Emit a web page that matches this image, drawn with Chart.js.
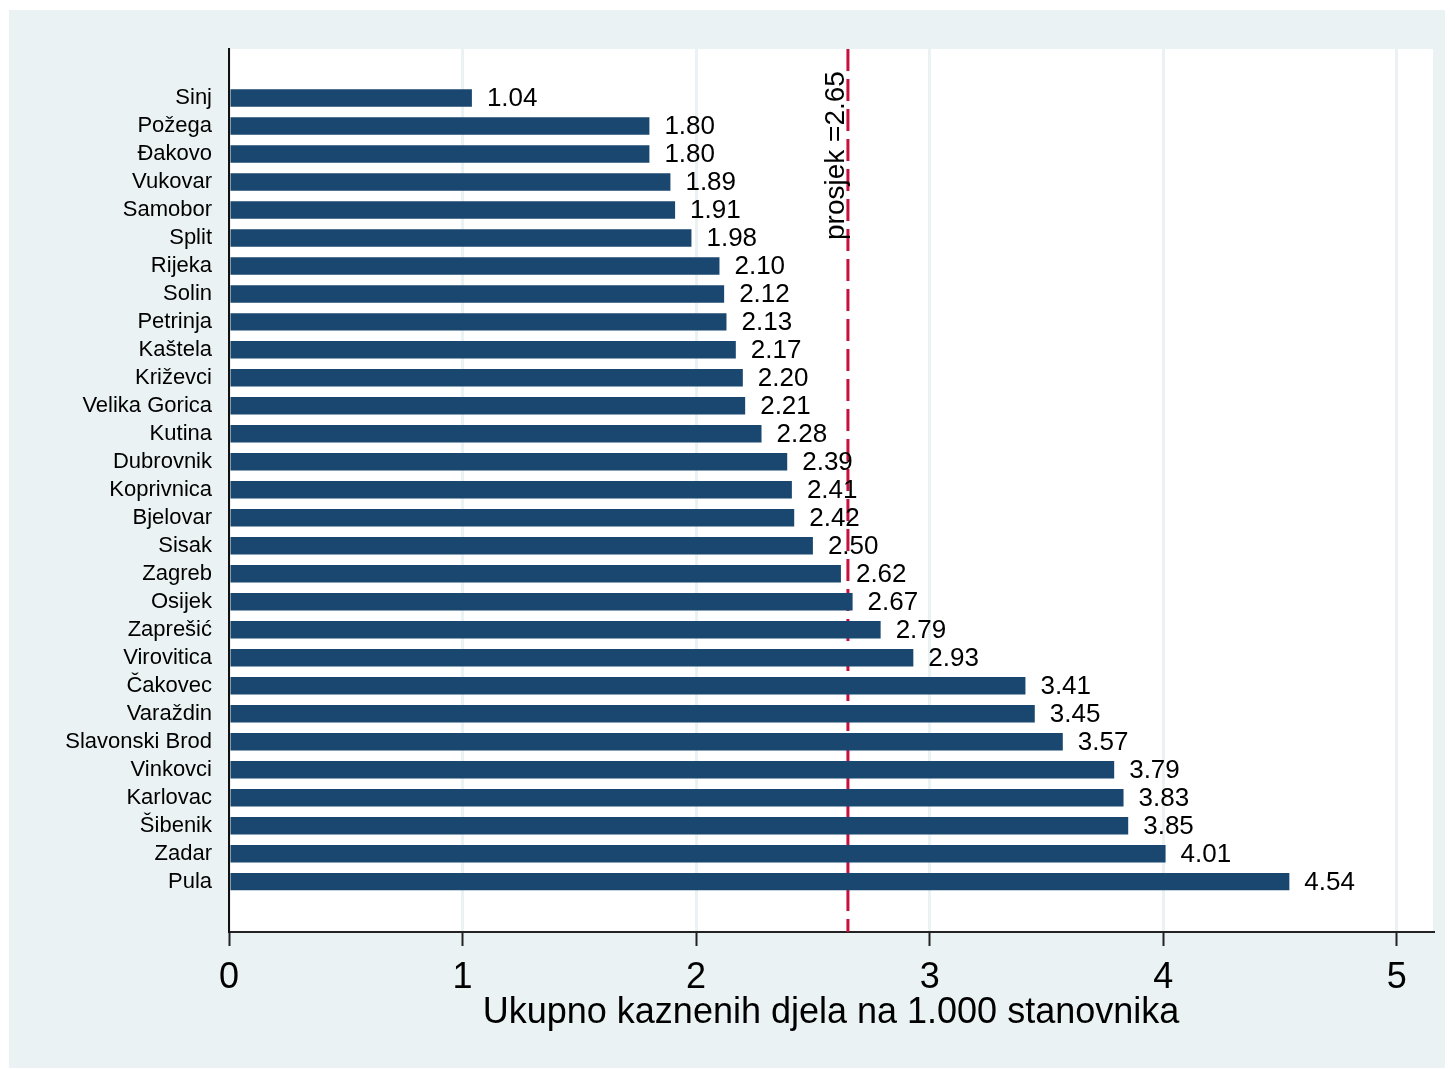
<!DOCTYPE html>
<html>
<head>
<meta charset="utf-8">
<script src="https://cdn.jsdelivr.net/npm/chart.js@4/dist/chart.umd.min.js"></script>
<style>
  html, body { margin: 0; padding: 0; background: #ffffff; }
  #wrap { position: absolute; left: 9px; top: 10px; width: 1436px; height: 1058px; background: #EAF2F3; }
  canvas { display: block; }
</style>
</head>
<body>
<div id="wrap"><canvas id="c" width="1436" height="1058"></canvas></div>
<script>
const cities = ["Sinj","Požega","Đakovo","Vukovar","Samobor","Split","Rijeka","Solin","Petrinja","Kaštela","Križevci","Velika Gorica","Kutina","Dubrovnik","Koprivnica","Bjelovar","Sisak","Zagreb","Osijek","Zaprešić","Virovitica","Čakovec","Varaždin","Slavonski Brod","Vinkovci","Karlovac","Šibenik","Zadar","Pula"];
const values = [1.04,1.80,1.80,1.89,1.91,1.98,2.10,2.12,2.13,2.17,2.20,2.21,2.28,2.39,2.41,2.42,2.50,2.62,2.67,2.79,2.93,3.41,3.45,3.57,3.79,3.83,3.85,4.01,4.54];
const xTicks = [0,1,2,3,4,5];
const meanValue = 2.65;
const meanLabel = "prosjek =2.65";
const xTitle = "Ukupno kaznenih djela na 1.000 stanovnika";

const FONT = "'Liberation Sans', Arial, 'DejaVu Sans', sans-serif";

const plotBg = {
  id: 'plotBg',
  beforeDraw(chart) {
    const {ctx, chartArea: a} = chart;
    ctx.save();
    ctx.fillStyle = '#ffffff';
    ctx.fillRect(a.left, a.top, a.right - a.left, a.bottom - a.top);
    ctx.restore();
  }
};

const meanLine = {
  id: 'meanLine',
  beforeDatasetsDraw(chart) {
    const {ctx, chartArea: a, scales} = chart;
    const x = scales.x.getPixelForValue(meanValue);
    ctx.save();
    ctx.strokeStyle = '#C8103E';
    ctx.lineWidth = 3;
    ctx.setLineDash([22, 8]);
    ctx.beginPath();
    ctx.moveTo(x, a.top);
    ctx.lineTo(x, a.bottom);
    ctx.stroke();
    ctx.restore();
  },
  afterDatasetsDraw(chart) {
    const {ctx, chartArea: a, scales} = chart;
    const x = scales.x.getPixelForValue(meanValue);
    ctx.save();
    ctx.translate(x - 4, a.top + 191);
    ctx.rotate(-Math.PI / 2);
    ctx.font = '28px ' + FONT;
    ctx.fillStyle = '#000000';
    ctx.textAlign = 'left';
    ctx.textBaseline = 'alphabetic';
    ctx.fillText(meanLabel, 0, 0);
    ctx.restore();
  }
};

const valueLabels = {
  id: 'valueLabels',
  afterDatasetsDraw(chart) {
    const {ctx} = chart;
    const meta = chart.getDatasetMeta(0);
    ctx.save();
    ctx.font = '26px ' + FONT;
    ctx.fillStyle = '#000000';
    ctx.textAlign = 'left';
    ctx.textBaseline = 'middle';
    meta.data.forEach((bar, i) => {
      ctx.fillText(values[i].toFixed(2), bar.x + 15, bar.y + 1);
    });
    ctx.restore();
  }
};

new Chart(document.getElementById('c'), {
  type: 'bar',
  data: {
    datasets: [{
      data: cities.map((c, i) => ({x: values[i], y: i})),
      backgroundColor: '#1A476F',
      borderWidth: 0,
      categoryPercentage: 1,
      barPercentage: 0.625
    }]
  },
  options: {
    indexAxis: 'y',
    responsive: false,
    animation: false,
    devicePixelRatio: 1,
    layout: { padding: { top: 39, right: 12, left: 0, bottom: 0 } },
    plugins: { legend: { display: false }, tooltip: { enabled: false } },
    scales: {
      x: {
        type: 'linear',
        min: 0,
        max: 5.155,
        afterBuildTicks(axis) { axis.ticks = xTicks.map(v => ({value: v})); },
        afterFit(axis) { axis.height = 136; },
        grid: { color: '#EAF2F3', lineWidth: 3, drawTicks: true, tickLength: 14, tickColor: '#222222', tickWidth: 2 },
        border: { display: true, color: '#222222', width: 2 },
        ticks: { font: { family: FONT, size: 36 }, color: '#000000', padding: 10, maxRotation: 0 },
        title: { display: true, text: xTitle, font: { family: FONT, size: 36 }, color: '#000000', padding: { top: 0, bottom: 33 } }
      },
      y: {
        type: 'linear',
        reverse: true,
        offset: false,
        min: -1.75,
        max: 29.8,
        afterBuildTicks(axis) { axis.ticks = cities.map((c, i) => ({value: i})); },
        afterFit(axis) { axis.width = 220; },
        grid: { display: false, drawTicks: false },
        border: { display: true, color: '#111111', width: 2 },
        ticks: {
          autoSkip: false,
          font: { family: FONT, size: 22 },
          color: '#000000',
          padding: 17,
          callback: (v) => cities[v] !== undefined ? cities[v] : ''
        }
      }
    }
  },
  plugins: [plotBg, meanLine, valueLabels]
});
</script>
</body>
</html>
